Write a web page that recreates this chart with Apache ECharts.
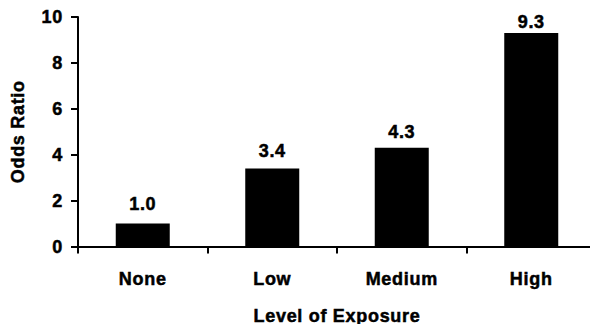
<!DOCTYPE html>
<html>
<head>
<meta charset="utf-8">
<script src="https://cdn.jsdelivr.net/npm/echarts@6/dist/echarts.min.js"></script>
<style>
  html, body { margin: 0; padding: 0; background: #fff; }
  #chart { width: 590px; height: 324px; }
  /* slightly tracked-out bold lettering */
  #chart svg text { letter-spacing: 0.7px; }
</style>
</head>
<body>
<div id="chart"></div>
<script>
// Odds ratio by level of exposure
const categories = ['None', 'Low', 'Medium', 'High'];
const oddsRatios = [1.0, 3.4, 4.3, 9.3];
const yTicks = { min: 0, max: 10, interval: 2 };

const FONT = "'Liberation Sans', Arial, Helvetica, sans-serif";
const textBase = {
  color: '#000', fontFamily: FONT, fontWeight: 'bold', fontSize: 18,
  textBorderColor: '#000', textBorderWidth: 0.5
};
const axisLine = { show: true, lineStyle: { color: '#000', width: 2 } };
const axisTick = { show: true, length: 7, lineStyle: { color: '#000', width: 2 } };

// value labels sit a little closer to the taller bars
const barData = oddsRatios.map(v => ({
  value: v,
  label: { distance: Math.max(1.5, 10.5 - (v - 1)) }
}));

const chart = echarts.init(document.getElementById('chart'), null, { renderer: 'svg' });
chart.setOption({
  animation: false,
  backgroundColor: '#fff',
  grid: { left: 78, right: -6, top: 17, bottom: 77.5, containLabel: false, outerBoundsMode: 'none' },
  xAxis: {
    type: 'category',
    data: categories,
    axisLine: axisLine,
    axisTick: axisTick,
    axisLabel: Object.assign({ margin: 23 }, textBase),
    name: 'Level of Exposure',
    nameLocation: 'middle',
    nameGap: 60,
    nameTextStyle: Object.assign({ verticalAlign: 'top' }, textBase)
  },
  yAxis: {
    type: 'value',
    min: yTicks.min,
    max: yTicks.max,
    interval: yTicks.interval,
    splitLine: { show: false },
    axisLine: axisLine,
    axisTick: axisTick,
    axisLabel: Object.assign({ margin: 15, padding: [4, 0, 0, 0] }, textBase),
    name: 'Odds Ratio',
    nameLocation: 'middle',
    nameGap: 51,
    nameTextStyle: textBase
  },
  series: [{
    type: 'bar',
    data: barData,
    barWidth: 54,
    itemStyle: { color: '#000' },
    label: Object.assign({
      show: true,
      position: 'top',
      distance: 10,
      formatter: p => p.value.toFixed(1)
    }, textBase)
  }]
});
</script>
</body>
</html>
